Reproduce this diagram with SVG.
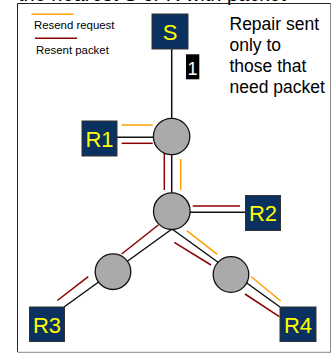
<svg xmlns="http://www.w3.org/2000/svg" width="332" height="354" viewBox="0 0 332 354">
<style>
.box{fill:#0b3160;stroke:#333;stroke-width:1}
.lbl{font-family:"Liberation Sans",Arial,sans-serif;font-size:22px;fill:#ffff00;text-anchor:middle}
.hub{fill:#aaaaaa;stroke:#111;stroke-width:1.3}
.blk{stroke:#111;stroke-width:1.5;fill:none}
.req{stroke:#ffa000;stroke-width:1.5;fill:none}
.pkt{stroke:#8b0000;stroke-width:1.5;fill:none}
.txt{font-family:"Liberation Sans",Arial,sans-serif;fill:#000}
</style>
<rect width="332" height="354" fill="#fff"/>
<text class="txt" x="18" y="1" font-size="20">the nearest S or R with packet</text>
<path d="M17.5,352 V3.5 H331" stroke="#222" stroke-width="1" fill="none"/>
<path d="M330.5,3.5 V352 M17.5,352.3 H331" stroke="#888" stroke-width="1" fill="none"/>

<g id="legend">
<line class="req" x1="31.5" y1="14.3" x2="73.5" y2="14.3"/>
<text class="txt" x="34" y="29" font-size="11.4">Resend request</text>
<line class="pkt" x1="35" y1="38.3" x2="77" y2="38.3"/>
<text class="txt" x="36" y="54" font-size="11.4">Resent packet</text>
</g>

<g id="note">
<text class="txt" font-size="17.5"><tspan x="229.5" y="29.5">Repair sent</tspan><tspan x="229.5" y="50.5">only to</tspan><tspan x="229.5" y="71.5">those that</tspan><tspan x="229.5" y="92.5">need packet</tspan></text>
</g>

<g id="connectors">
<line class="blk" x1="171.7" y1="49" x2="171.7" y2="194"/>
<line class="blk" x1="117" y1="137.3" x2="153.5" y2="137.3"/>
<line class="blk" x1="190" y1="212.3" x2="245" y2="212.3"/>
<line class="blk" x1="172" y1="229" x2="280" y2="307"/>
<line class="blk" x1="172" y1="229" x2="64" y2="307"/>
<line class="req" x1="121.7" y1="125" x2="152.7" y2="125"/>
<line class="pkt" x1="121.7" y1="143.3" x2="152.7" y2="143.3"/>
<line class="pkt" x1="164.3" y1="153" x2="164.3" y2="190"/>
<line class="req" x1="180.7" y1="159" x2="180.7" y2="190"/>
<line class="pkt" x1="192.7" y1="206" x2="240" y2="206"/>
<line class="req" x1="186.7" y1="230.7" x2="217.3" y2="254.3"/>
<line class="pkt" x1="174.3" y1="242.3" x2="211" y2="265"/>
<line class="req" x1="251" y1="276.5" x2="280.7" y2="301"/>
<line class="pkt" x1="245" y1="294" x2="279.3" y2="316.7"/>
<line class="pkt" x1="158.3" y1="225" x2="121.7" y2="254"/>
<line class="pkt" x1="88.3" y1="276.7" x2="57.3" y2="300.5"/>
</g>

<g id="label1">
<rect x="186" y="54.3" width="13.3" height="25" fill="#000"/>
<text class="txt" x="192.6" y="75" font-size="18" style="fill:#fff" text-anchor="middle">1</text>
</g>

<g id="hub1"><circle class="hub" cx="171.6" cy="136.5" r="18.2"/></g>
<g id="hub2"><circle class="hub" cx="171.8" cy="211.2" r="18.3"/></g>
<g id="hub3"><circle class="hub" cx="231" cy="274.5" r="17.8"/></g>
<g id="hub4"><circle class="hub" cx="113" cy="271.7" r="17.8"/></g>

<g id="S"><rect class="box" x="152" y="14" width="36" height="35"/><text class="lbl" x="170" y="39.5">S</text></g>
<g id="R1"><rect class="box" x="82" y="121" width="35" height="35"/><text class="lbl" x="99.5" y="146.5">R1</text></g>
<g id="R2"><rect class="box" x="245.5" y="195.5" width="35" height="35"/><text class="lbl" x="263" y="221">R2</text></g>
<g id="R3"><rect class="box" x="29.5" y="307" width="35" height="34.5"/><text class="lbl" x="47" y="332.5">R3</text></g>
<g id="R4"><rect class="box" x="280" y="307" width="36" height="34.5"/><text class="lbl" x="298" y="332.5">R4</text></g>
</svg>
